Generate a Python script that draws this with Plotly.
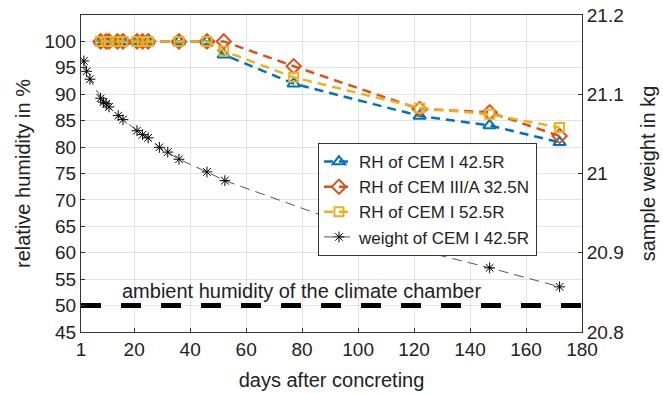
import plotly.graph_objects as go

# ---- data ----
rh_days = [8, 10, 11, 14, 16, 21, 23, 25, 36, 46, 52, 77, 122, 147, 172]
rh_cem1_425 = [100, 100, 100, 100, 100, 100, 100, 100, 100, 100, 97.5, 92.0, 85.9, 84.1, 80.9]
rh_cem3_325 = [100, 100, 100, 100, 100, 100, 100, 100, 100, 100, 100.0, 95.3, 87.2, 86.6, 82.1]
rh_cem1_525 = [100, 100, 100, 100, 100, 100, 100, 100, 100, 100, 98.2, 93.2, 87.4, 86.2, 83.7]

w_days = [2, 3, 4.2, 8, 9, 10, 11, 14.3, 16, 21, 23, 25, 29, 32, 36, 46, 52.4, 122, 147, 172]
w_kg = [21.142, 21.129, 21.119, 21.095, 21.090, 21.088, 21.084, 21.073, 21.068, 21.054,
        21.049, 21.045, 21.033, 21.027, 21.018, 21.002, 20.991, 20.903, 20.881, 20.857]

ambient_x = [1, 180]
ambient_y = [50, 50]

x_ticks = [1, 20, 40, 60, 80, 100, 120, 140, 160, 180]
y_ticks = [45, 50, 55, 60, 65, 70, 75, 80, 85, 90, 95, 100]
y2_ticks = [20.8, 20.9, 21.0, 21.1, 21.2]
y2_labels = ["20.8", "20.9", "21", "21.1", "21.2"]

FONT = "Liberation Sans, Arial, sans-serif"
BLUE = "#0072BD"
ORANGE = "#D95319"
YELLOW = "#EDB120"

fig = go.Figure()

fig.add_trace(go.Scatter(
    x=ambient_x, y=ambient_y, mode="lines", showlegend=False,
    line=dict(color="black", width=5, dash="20px,20px"), hoverinfo="skip"))

fig.add_trace(go.Scatter(
    x=rh_days, y=rh_cem1_425, mode="lines+markers", name="RH of CEM I 42.5R",
    line=dict(color=BLUE, width=2.5, dash="9px,6px"),
    marker=dict(symbol="triangle-up-open", size=11, color=BLUE, line=dict(width=2, color=BLUE))))
fig.add_trace(go.Scatter(
    x=rh_days, y=rh_cem3_325, mode="lines+markers", name="RH of CEM III/A 32.5N",
    line=dict(color=ORANGE, width=2.5, dash="9px,6px"),
    marker=dict(symbol="diamond-open", size=11, color=ORANGE, line=dict(width=2, color=ORANGE))))
fig.add_trace(go.Scatter(
    x=rh_days, y=rh_cem1_525, mode="lines+markers", name="RH of CEM I 52.5R",
    line=dict(color=YELLOW, width=2.5, dash="9px,6px"),
    marker=dict(symbol="square-open", size=9, color=YELLOW, line=dict(width=2, color=YELLOW))))
fig.add_trace(go.Scatter(
    x=w_days, y=w_kg, mode="lines+markers", name="weight of CEM I 42.5R", yaxis="y2",
    line=dict(color="#555555", width=1, dash="10px,6px"),
    marker=dict(symbol="asterisk-open", size=9, color="black", line=dict(width=1, color="black"))))

fig.add_annotation(x=14.9, y=52.8, xref="x", yref="y", xanchor="left", yanchor="middle",
                   text="ambient humidity of the climate chamber", showarrow=False,
                   font=dict(family=FONT, size=20, color="#222"))

axis_common = dict(showline=True, linecolor="#333", linewidth=1, ticks="inside", ticklen=4,
                   tickcolor="#333", tickfont=dict(family=FONT, size=19, color="#222"),
                   zeroline=False, automargin=False)

fig.update_layout(
    width=663, height=394,
    margin=dict(l=81, r=81, t=15, b=62),
    paper_bgcolor="white", plot_bgcolor="white",
    font=dict(family=FONT, color="#222"),
    xaxis=dict(range=[1, 180], tickvals=x_ticks, showgrid=True, gridcolor="#e3e3e3", gridwidth=1,
               mirror=True,
               title=dict(text="days after concreting", font=dict(family=FONT, size=20), standoff=14),
               **axis_common),
    yaxis=dict(range=[45, 105], tickvals=y_ticks, showgrid=True, gridcolor="#e3e3e3", gridwidth=1,
               title=dict(text="relative humidity in %", font=dict(family=FONT, size=20), standoff=8),
               **axis_common),
    yaxis2=dict(range=[20.8, 21.2], tickvals=y2_ticks, ticktext=y2_labels, overlaying="y", side="right",
                showgrid=False,
                title=dict(text="sample weight in kg", font=dict(family=FONT, size=20), standoff=18),
                **axis_common),
    legend=dict(x=0.473, y=0.596, xanchor="left", yanchor="top", bgcolor="white",
                bordercolor="#333", borderwidth=1, font=dict(family=FONT, size=17, color="#222"),
                tracegroupgap=0, itemwidth=30),
    showlegend=True,
)

fig.write_html("out.html")
